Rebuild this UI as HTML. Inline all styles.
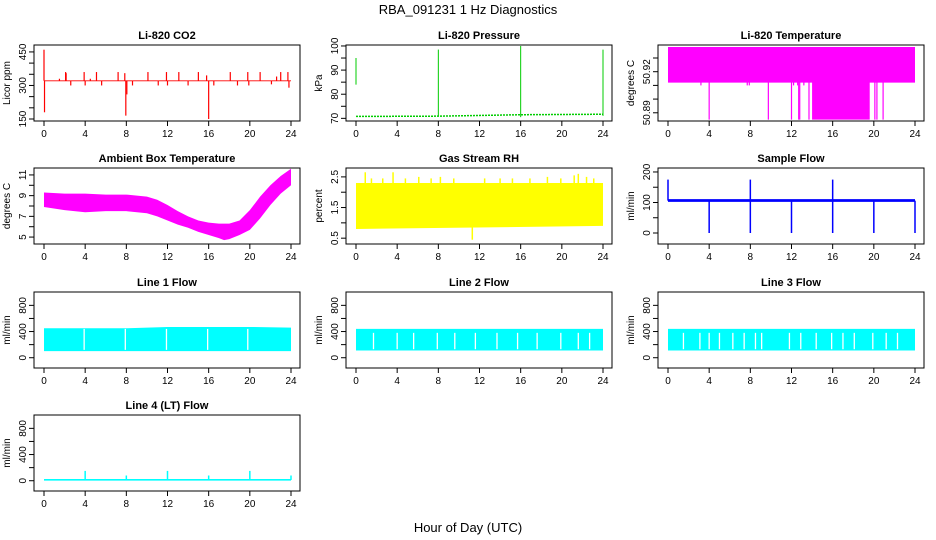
<!DOCTYPE html>
<html><head><meta charset="utf-8"><style>
body{margin:0;background:#fff;}
svg{display:block;font-family:"Liberation Sans",Arial,sans-serif;}
</style></head><body>
<svg id="chart" width="936" height="540" viewBox="0 0 936 540" xmlns="http://www.w3.org/2000/svg">
<rect x="0" y="0" width="936" height="540" fill="#fff"/>
<text x="468" y="14" font-size="13" text-anchor="middle">RBA_091231  1 Hz Diagnostics</text>
<text x="468" y="532" font-size="13" text-anchor="middle">Hour of Day (UTC)</text>
</svg>
<script>
// ---- data ----
const hourTicks = [0,4,8,12,16,20,24];
// CO2
const co2Base = 321;
const co2SpikeHours = [0,0.05,1.5,2.1,2.15,2.6,3.9,4.0,4.5,5.1,5.6,7.2,7.85,7.95,8.05,8.6,10.1,11.1,11.9,12.0,13.1,14.0,15.0,15.8,16.0,16.5,18.1,18.8,19.8,19.9,21.0,22.1,22.6,23.0,23.7,23.8];
const co2SpikeValues = [460,180,330,360,355,300,360,300,330,360,300,360,355,165,260,300,360,300,360,300,360,300,360,345,150,300,360,300,360,300,360,305,340,360,360,290];
// Pressure
const presHours = [0,8,16,24];
const presValues = [70.8,70.9,71.5,71.7];
const presSpikeHours = [0,8,16,24];
const presSpikeLow = [84,71,70.5,71];
const presSpikeHigh = [95,98.5,100,98.5];
// Li-820 temperature
const ltTop = 50.938;
const ltLowHours = [0,14,14,19.6,19.6,24];
const ltLowValues = [50.912,50.912,50.885,50.885,50.912,50.912];
const ltDipHours = [3.2,4,7.7,7.9,9.75,12,12.2,12.6,12.7,12.8,13.2,13.7,20.1,20.3,20.9];
const ltDipValues = [50.910,50.885,50.910,50.910,50.885,50.885,50.910,50.910,50.885,50.885,50.910,50.885,50.885,50.885,50.885];
// Ambient box temperature
const ambHours = [0,2,4,6,8,10,11,12,13,14,15,16,17,17.5,18,19,20,21,22,23,24];
const ambHigh = [9.3,9.2,9.2,9.1,9.1,8.9,8.6,8.1,7.5,7.0,6.6,6.4,6.3,6.3,6.3,6.6,7.6,8.9,10.0,10.9,11.6];
const ambLow  = [7.9,7.6,7.4,7.5,7.5,7.3,7.0,6.6,6.2,5.9,5.5,5.2,4.9,4.7,4.8,5.2,5.7,6.8,8.1,9.2,10.0];
// Gas stream RH
const rhHours = [0,24];
const rhHigh = [2.3,2.3];
const rhLow = [0.8,0.9];
const rhSpikeHours = [0.9,1.5,2.6,3.6,4.8,6.1,7.3,8.2,9.5,11.3,12.5,14.0,15.2,16.9,18.6,19.9,21.2,21.6,22.4,23.1];
const rhSpikeValues = [2.65,2.45,2.45,2.65,2.45,2.5,2.45,2.5,2.45,0.45,2.45,2.45,2.45,2.45,2.5,2.45,2.55,2.6,2.5,2.45];
// Sample flow
const sfBase = 106;
const sfDipHours = [4,8,12,16,20,24];
const sfSpikeHours = [0,8,16];
const sfSpikeValues = [175,175,175];
// Line flows
const l1High = [450,450,470,470,460];
const l1Hours = [0,8,12,20,24];
const l1Low = 100;
const l1Gaps = [3.9,7.9,11.9,15.9,19.8];
const l2Gaps = [1.7,4.0,5.6,7.9,9.6,11.6,13.7,15.7,17.6,19.9,21.6,22.7];
const l3Gaps = [1.5,3.1,4.0,5.0,6.3,7.4,8.5,9.1,11.8,12.9,14.4,15.9,17.0,18.1,19.9,21.2,22.3];
const l4Base = 12;
const l4SpikeHours = [4,8,12,16,20,24];
const l4SpikeValues = [150,80,150,80,150,80];

// ---- layout ----
const NS = "http://www.w3.org/2000/svg";
const svg = document.getElementById('chart');
const cols = [[34,300],[346,612],[658,924]];
const rows = [45,168,292,415];
const H = 76;
function mk(tag, attrs, parent){const e=document.createElementNS(NS,tag);for(const k in attrs)e.setAttribute(k,attrs[k]);(parent||svg).appendChild(e);return e;}

function panel(c,r,title,ylab,ylim,ticks,labels,name){
  const L=cols[c][0],R=cols[c][1],T=rows[r],B=T+H;
  const g=mk('g',{});
  
  
  const xs=h=>L+10+h*(R-L-19)/24;
  const ys=v=>B-(v-ylim[0])/(ylim[1]-ylim[0])*H;
  const t=mk('text',{x:(L+R)/2,y:T-6,'font-size':11,'font-weight':'bold','text-anchor':'middle'},g);
  t.textContent=title;
  
  
  const yl=mk('text',{x:0,y:0,'font-size':10,'text-anchor':'middle',transform:`translate(${L-24},${(T+B)/2}) rotate(-90)`},g);
  yl.textContent=ylab;
  
  
  hourTicks.forEach(h=>{
    mk('line',{x1:xs(h),x2:xs(h),y1:B,y2:B+5,stroke:'#000'},g);
    const tx=mk('text',{x:xs(h),y:B+16,'font-size':10,'text-anchor':'middle'},g);
    tx.textContent=h;
    
    
  });
  ticks.forEach(v=>{
    mk('line',{x1:L-5,x2:L,y1:ys(v),y2:ys(v),stroke:'#000'},g);
  });
  labels.forEach(v=>{
    const tx=mk('text',{x:0,y:0,'font-size':10,'text-anchor':'middle',transform:`translate(${L-8},${ys(v)}) rotate(-90)`},g);
    tx.textContent=v;
    
    
  });
  const plot=mk('g',{},g);
  const frame=()=>mk('rect',{x:L,y:T,width:R-L,height:H,fill:'none',stroke:'#000'},g);
  return {xs,ys,plot,frame};
}
function vline(p,h,v1,v2,col,w){
  const e=mk('line',{x1:p.xs(h),x2:p.xs(h),y1:p.ys(v1),y2:p.ys(v2),stroke:col,'stroke-width':w||1.2},p.plot);
  
  
}
function band(p,hours,hi,lo,col){
  let pts=hours.map((h,i)=>p.xs(h)+','+p.ys(hi[i]));
  for(let i=hours.length-1;i>=0;i--)pts.push(p.xs(hours[i])+','+p.ys(lo[i]));
  const e=mk('polygon',{points:pts.join(' '),fill:col},p.plot);
  
  
}

// CO2
let p=panel(0,0,'Li-820 CO2','Licor ppm',[141,481],[150,200,250,300,350,400,450],[150,300,450],'co2');
band(p,[0,24],[co2Base+2,co2Base+2],[co2Base-2,co2Base-2],'#f00');
co2SpikeHours.forEach((h,i)=>vline(p,h,co2Base,co2SpikeValues[i],'#f00'));
p.frame();
// Pressure
p=panel(1,0,'Li-820 Pressure','kPa',[68.9,100.4],[70,75,80,85,90,95,100],[70,80,90,100],'pressure');
{const e=mk('polyline',{points:presHours.map((h,i)=>p.xs(h)+','+p.ys(presValues[i])).join(' '),fill:'none',stroke:'#0c0','stroke-width':1.5,'stroke-dasharray':'2,1'},p.plot);

}
presSpikeHours.forEach((h,i)=>vline(p,h,presSpikeLow[i],presSpikeHigh[i],'#0c0',1));
p.frame();
// Li-820 temp
p=panel(2,0,'Li-820 Temperature','degrees C',[50.884,50.9395],[50.89,50.90,50.91,50.92,50.93],[50.89,50.92],'li820-temp');
band(p,ltLowHours,ltLowHours.map(()=>ltTop),ltLowValues,'#f0f');
ltDipHours.forEach((h,i)=>vline(p,h,ltTop,ltDipValues[i],'#f0f'));
p.frame();
// Ambient
p=panel(0,1,'Ambient Box Temperature','degrees C',[4.33,11.67],[5,6,7,8,9,10,11],[5,7,9,11],'ambient-temp');
band(p,ambHours,ambHigh,ambLow,'#f0f');
p.frame();
// RH
p=panel(1,1,'Gas Stream RH','percent',[0.31,2.79],[0.5,1,1.5,2,2.5],[0.5,1.5,2.5],'rh');
band(p,rhHours,rhHigh,rhLow,'#ff0');
rhSpikeHours.forEach((h,i)=>vline(p,h,1.5,rhSpikeValues[i],'#ff0',1.5));
p.frame();
// Sample flow
p=panel(2,1,'Sample Flow','ml/min',[-36,213],[0,50,100,150,200],[0,100,200],'sample-flow');
band(p,[0,24],[sfBase+5,sfBase+5],[sfBase-4,sfBase-4],'#00f');
sfDipHours.forEach(h=>vline(p,h,sfBase,0,'#00f',1.5));
sfSpikeHours.forEach((h,i)=>vline(p,h,sfBase,sfSpikeValues[i],'#00f',1.5));
p.frame();
// Line flows
const flowYlim=[-157,1004], flowTicks=[0,200,400,600,800], flowLabels=[0,400,800];
p=panel(0,2,'Line 1 Flow','ml/min',flowYlim,flowTicks,flowLabels,'line1-flow');
band(p,l1Hours,l1High,l1Hours.map(()=>l1Low),'#0ff');
l1Gaps.forEach(h=>vline(p,h,120,440,'#fff',1.3));
p.frame();
p=panel(1,2,'Line 2 Flow','ml/min',flowYlim,flowTicks,flowLabels,'line2-flow');
band(p,[0,24],[440,440],[110,110],'#0ff');
l2Gaps.forEach(h=>vline(p,h,130,380,'#fff',1.3));
p.frame();
p=panel(2,2,'Line 3 Flow','ml/min',flowYlim,flowTicks,flowLabels,'line3-flow');
band(p,[0,24],[440,440],[110,110],'#0ff');
l3Gaps.forEach(h=>vline(p,h,130,380,'#fff',1.3));
p.frame();
p=panel(0,3,'Line 4 (LT) Flow','ml/min',flowYlim,flowTicks,flowLabels,'line4-flow');
band(p,[0,24],[l4Base+15,l4Base+15],[l4Base-10,l4Base-10],'#0ff');
l4SpikeHours.forEach((h,i)=>vline(p,h,l4Base,l4SpikeValues[i],'#0ff',1.5));
p.frame();
</script>
</body></html>
